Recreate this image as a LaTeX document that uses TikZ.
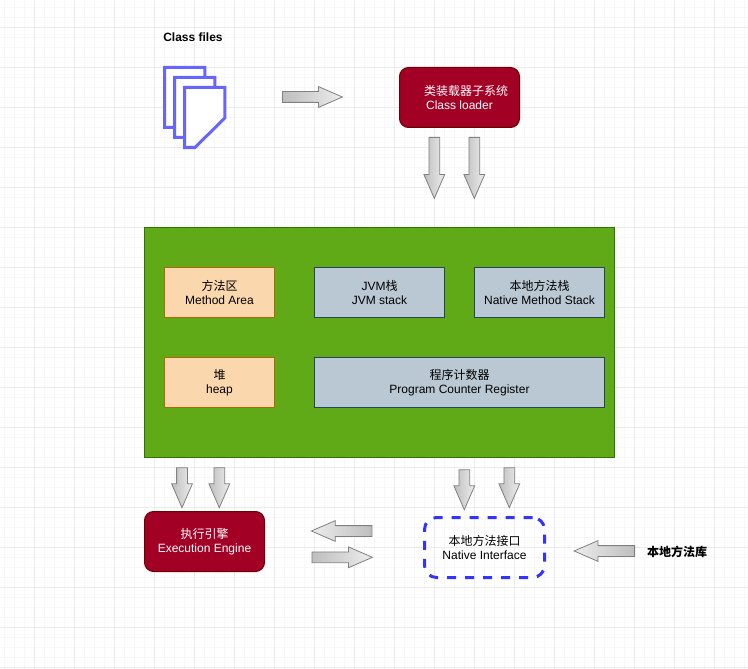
\documentclass[tikz,border=0pt]{standalone}
\usepackage{fontspec}
\usepackage{xcolor}
\setmainfont{Liberation Sans}
\newfontfamily\cjk{Noto Sans CJK SC}
\usetikzlibrary{shapes.arrows}
\definecolor{gridmajor}{HTML}{EBEBEB}
\definecolor{gridminor}{HTML}{F7F7F7}
\definecolor{crimson}{HTML}{A20025}
\definecolor{crimsonline}{HTML}{6F0000}
\definecolor{heapgreen}{HTML}{60A917}
\definecolor{heapline}{HTML}{2D7600}
\definecolor{peach}{HTML}{FAD7AC}
\definecolor{peachline}{HTML}{B46504}
\definecolor{slate}{HTML}{BAC8D3}
\definecolor{slateline}{HTML}{23445D}
\definecolor{pageblue}{HTML}{6666FF}
\definecolor{nativeblue}{HTML}{3333FF}
\definecolor{arrowdark}{HTML}{BEBEBE}
\definecolor{arrowlight}{HTML}{EDEDED}
\definecolor{arrowline}{HTML}{808080}
\tikzset{
	areabox/.style={draw=#1, line width=1pt, rectangle, inner sep=0pt, align=center, font=\fontsize{12}{14.5}\selectfont},
	peachbox/.style={areabox=peachline, fill=peach},
	slatebox/.style={areabox=slateline, fill=slate},
	redbox/.style={areabox=crimsonline, fill=crimson, text=white, rounded corners=9pt},
	caption/.style={inner sep=0pt, font=\fontsize{12}{14.5}\selectfont\bfseries},
	bigarrow/.style={single arrow, draw=arrowline, line width=0.8pt, inner xsep=0pt, inner ysep=5pt, anchor=tail,
		minimum width=20pt, single arrow head extend=5pt, single arrow tip angle=47,
		single arrow head indent=0pt, minimum height=#1},
	rightarrow/.style={bigarrow=#1, left color=arrowdark, right color=arrowlight},
	leftarrow/.style={bigarrow=#1, rotate=180, left color=arrowlight, right color=arrowdark},
	downarrow/.style={bigarrow=#1, rotate=-90, left color=arrowdark, right color=arrowlight},
	page/.style={draw=pageblue, line width=3pt, fill=white, miter limit=10}
}
\begin{document}
\begin{tikzpicture}[x=1pt,y=-1pt]
\useasboundingbox (0,0) rectangle (748,669);
\foreach \gx in {4.5,14.5,...,744.5} {\draw[gridminor, line width=1pt] (\gx,0) -- (\gx,669);}
\foreach \gy in {7.5,17.5,...,667.5} {\draw[gridminor, line width=1pt] (0,\gy) -- (748,\gy);}
\foreach \gx in {34.5,74.5,...,744.5} {\draw[gridmajor, line width=1pt] (\gx,0) -- (\gx,669);}
\foreach \gy in {27.5,67.5,...,667.5} {\draw[gridmajor, line width=1pt] (0,\gy) -- (748,\gy);}

\node[caption] (classfiles) at (193,37.5) {Class files};
\foreach \off in {0,10,20} {
	\draw[page] (164.5+\off,67.5+\off) -- (204.8+\off,67.5+\off) -- (204.8+\off,98+\off)
		-- (175+\off,127.5+\off) -- (164.5+\off,127.5+\off) -- cycle;
}

\node[redbox, minimum width=120pt, minimum height=60pt] (loader) at (459.5,97.5)
	{\hspace*{13pt}{\cjk 类装载器子系统}\\Class loader};

\node[rectangle, draw=heapline, fill=heapgreen, line width=1pt, inner sep=0pt,
	minimum width=470pt, minimum height=230pt] (runtime) at (379.5,342.5) {};

\node[peachbox, minimum width=110pt, minimum height=50pt] (method) at (219.5,292.5)
	{{\cjk 方法区}\\Method Area};
\node[slatebox, minimum width=130pt, minimum height=50pt] (jvmstack) at (379.5,292.5)
	{JVM{\cjk 栈}\\JVM stack};
\node[slatebox, minimum width=130pt, minimum height=50pt] (nativestack) at (539.5,292.5)
	{{\cjk 本地方法栈}\\Native Method Stack};
\node[peachbox, minimum width=110pt, minimum height=50pt] (heap) at (219.5,382.5)
	{{\cjk 堆}\\heap};
\node[slatebox, minimum width=290pt, minimum height=50pt] (counter) at (459.5,382.5)
	{{\cjk 程序计数器}\\Program Counter Register};

\node[redbox, minimum width=120pt, minimum height=60pt] (engine) at (204.5,541.5)
	{{\cjk 执行引擎}\\Execution Engine};
\node[areabox=nativeblue, line width=3pt, dash pattern=on 9pt off 9pt, rounded corners=12pt,
	minimum width=120pt, minimum height=60pt] (interface) at (484.5,547.5)
	{{\cjk 本地方法接口}\\Native Interface};
\node[caption] (nativelib) at (677,552) {\cjk\bfseries 本地方法库};

\node[rightarrow=60pt] (a1) at (282,97) {};
\node[downarrow=61pt] (a2) at (434.3,137) {};
\node[downarrow=61pt] (a3) at (474.3,137) {};
\node[downarrow=40pt] (a4) at (182,467.3) {};
\node[downarrow=40pt] (a5) at (219.3,467.3) {};
\node[downarrow=40pt] (a6) at (464.3,469.3) {};
\node[downarrow=40pt] (a7) at (509.3,467.3) {};
\node[leftarrow=60.5pt] (a8) at (372.3,531) {};
\node[rightarrow=60.5pt] (a9) at (311.5,557.3) {};
\node[leftarrow=60.5pt] (a10) at (635,551) {};
\end{tikzpicture}
\end{document}
